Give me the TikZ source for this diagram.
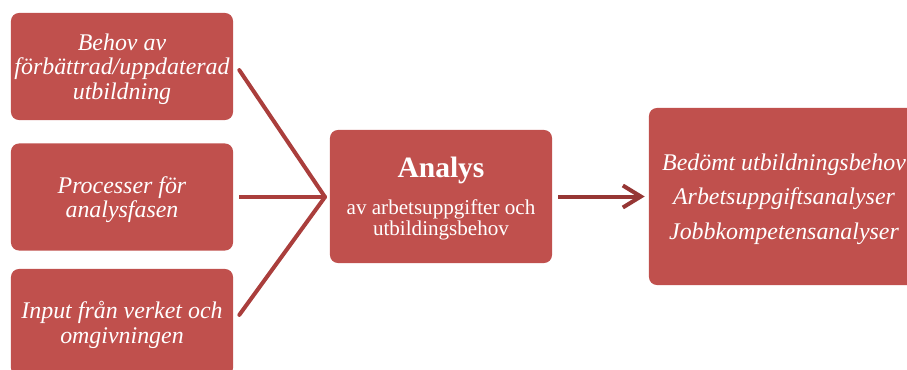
\documentclass[tikz,border=0pt]{standalone}
\usepackage{fontspec}
\setmainfont{Liberation Serif}
\usetikzlibrary{arrows.meta}
\definecolor{boxred}{RGB}{192,80,77}
\definecolor{linered}{RGB}{170,62,60}
\definecolor{arrowred}{RGB}{150,54,52}

\begin{document}
\begin{tikzpicture}[x=0.025cm,y=-0.025cm,
    box/.style={fill=boxred,rounded corners=0.2cm,text=white,align=center,inner sep=0pt,text depth=0pt},
    inbox/.style={box,minimum width=5.55cm,minimum height=2.675cm,font=\fontsize{17}{17.6}\selectfont\itshape},
    conn/.style={linered,line width=0.1cm}]
    \useasboundingbox(0,0)rectangle(907,369);
    \clip(0,0)rectangle(907,369);
    % inputs
    \node[inbox](behov)at(122,66.5){Behov av\\förbättrad/uppdaterad\\utbildning};
    \node[inbox](process)at(122,197){Processer för\\analysfasen};
    \node[inbox](input)at(122,322.5){Input från verket och\\omgivningen};
    % analysis
    \node[box,minimum width=5.55cm,minimum height=3.325cm,font=\fontsize{15}{15}\selectfont](analys)at(441,196.5)
        {{\fontsize{21}{26}\selectfont\bfseries Analys}\\[0.36cm]
         av arbetsuppgifter och\\utbildingsbehov};
    % results
    \node[box,minimum width=6.75cm,minimum height=4.425cm,
        font=\fontsize{17}{24.5}\selectfont\itshape](utfall)at(784,196.5)
        {Bedömt utbildningsbehov\\Arbetsuppgiftsanalyser\\Jobbkompetensanalyser};

    \coordinate(spets)at(325,197);
    \draw[conn,line cap=round]([shift={(0.15cm,-0.09cm)}]behov.east)--(spets);
    \draw[conn]([xshift=0.15cm]process.east)--(spets);
    \draw[conn,line cap=round]([shift={(0.15cm,0.19cm)}]input.east)--(spets);
    \draw[arrowred,line width=0.1cm,-{Straight Barb[length=0.45cm,width=0.55cm]}]
        ([xshift=0.15cm]analys.east)--([xshift=-0.1cm]utfall.west);
\end{tikzpicture}
\end{document}
